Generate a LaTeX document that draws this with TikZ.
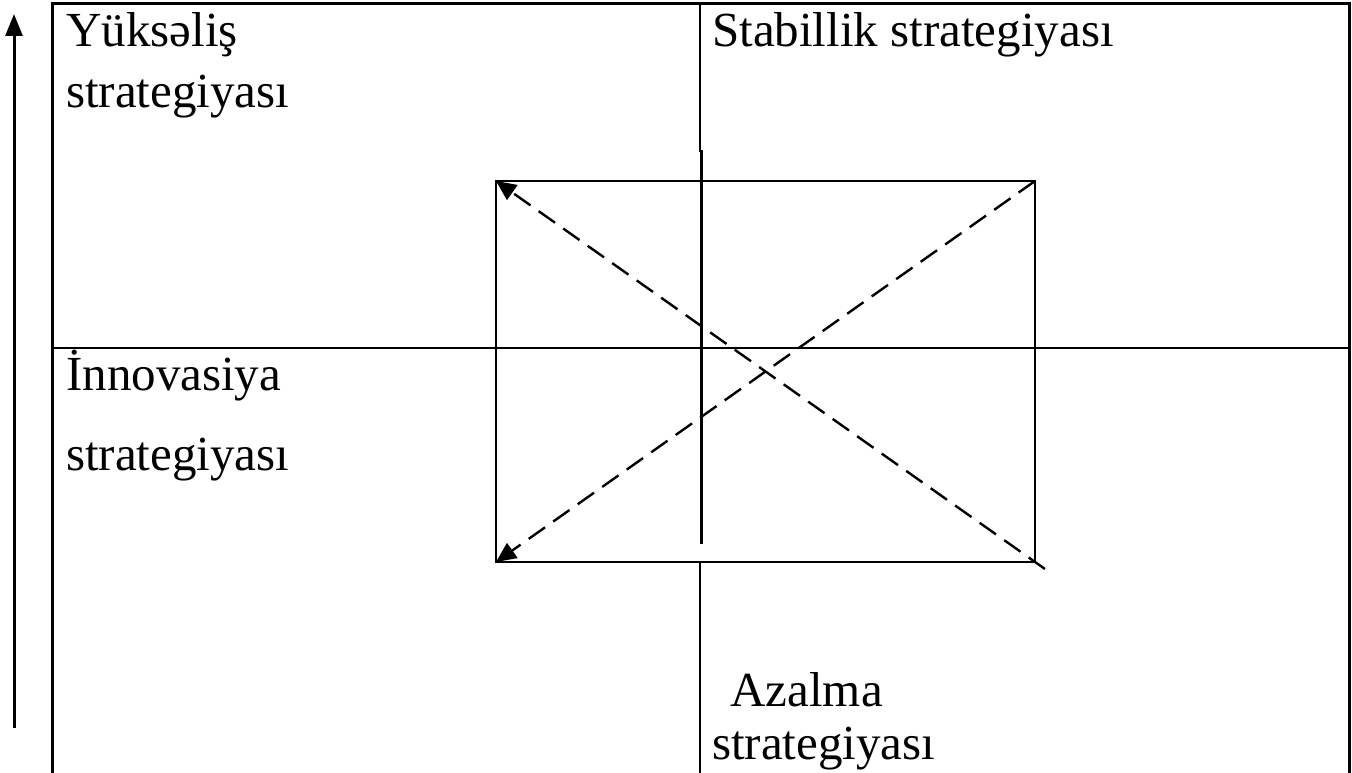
\documentclass[tikz,border=0pt]{standalone}
\usepackage{fontspec}
\setmainfont{Liberation Serif}
\usetikzlibrary{arrows.meta}
\begin{document}
\begin{tikzpicture}[x=1pt,y=-1pt,
  line/.style={line width=3pt},
  thin/.style={line width=2.4pt},
  diag/.style={line width=2.4pt, dash pattern=on 20pt off 10pt},
  lbl/.style={anchor=base west, inner sep=0pt, font=\fontsize{49}{57}\selectfont}]
\useasboundingbox (0,0) rectangle (1352,773);
% outer frame (open at the bottom)
\coordinate (fbl) at (52,773);
\coordinate (ftl) at (52,4);
\coordinate (ftr) at (1349,4);
\coordinate (fbr) at (1349,773);
\draw[line] (fbl) -- (ftl) -- (ftr) -- (fbr);
% middle horizontal line
\coordinate (ml) at (52,348);
\coordinate (mr) at (1349,348);
\draw[thin] (ml) -- (mr);
% vertical line
\coordinate (vt) at (700,4);
\coordinate (vj) at (700,152);
\coordinate (vj2) at (701.5,150);
\coordinate (vm) at (701.5,544);
\coordinate (vb1) at (700,562);
\coordinate (vb2) at (700,773);
\draw[thin] (vt) -- (vj);
\draw[line] (vj2) -- (vm);
\draw[thin] (vb1) -- (vb2);
% inner rectangle
\coordinate (rtl) at (496,181);
\coordinate (rtr) at (1035,181);
\coordinate (rbr) at (1035,562);
\coordinate (rbl) at (496,562);
\draw[thin] (rtl) -- (rtr) -- (rbr) -- (rbl) -- cycle;
% dashed diagonals
\coordinate (dbr) at (1045,569);
\draw[diag, -{Triangle[length=20pt,width=18pt]}] (dbr) -- (rtl);
\draw[diag, -{Triangle[length=20pt,width=18pt]}] (rtr) -- (rbl);
% left arrow
\coordinate (ab) at (14,728);
\coordinate (at) at (14,14);
\draw[line width=3pt, -{Triangle[length=22pt,width=17pt]}] (ab) -- (at);
% labels
\node[lbl] (t1) at (66,47) {Yüksəliş};
\node[lbl] (t2) at (66,108) {strategiyası};
\node[lbl] (t3) at (712,47) {Stabillik strategiyası};
\node[lbl] (t4) at (66,390) {İnnovasiya};
\node[lbl] (t5) at (66,470) {strategiyası};
\node[lbl] (t6) at (718,706) {\ Azalma};
\node[lbl] (t7) at (712,759) {strategiyası};
\end{tikzpicture}
\end{document}
